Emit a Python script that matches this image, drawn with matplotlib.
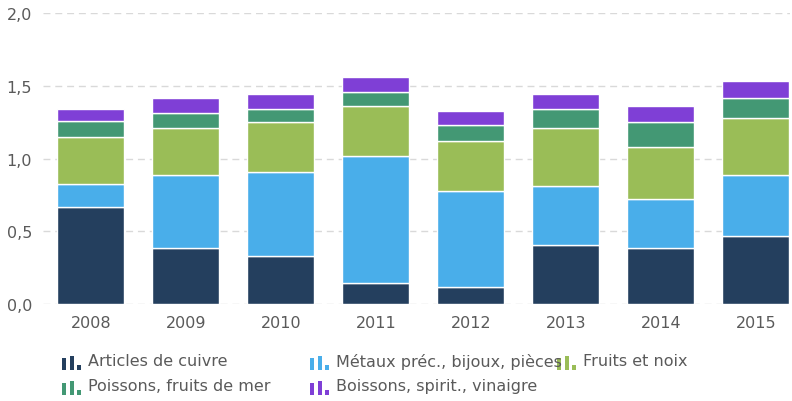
import matplotlib
matplotlib.use('Agg')
import matplotlib.pyplot as plt
from matplotlib.patches import Rectangle
import numpy as np

years = ['2008', '2009', '2010', '2011', '2012', '2013', '2014', '2015']
series_names = ['Articles de cuivre', 'Métaux préc., bijoux, pièces', 'Fruits et noix',
                'Poissons, fruits de mer', 'Boissons, spirit., vinaigre']
cuivre   = [0.665, 0.385, 0.330, 0.144, 0.119, 0.405, 0.387, 0.470]
metaux   = [0.158, 0.502, 0.575, 0.873, 0.658, 0.408, 0.332, 0.417]
fruits   = [0.323, 0.325, 0.344, 0.342, 0.341, 0.397, 0.362, 0.389]
poissons = [0.110, 0.101, 0.091, 0.100, 0.110, 0.130, 0.168, 0.138]
boissons = [0.082, 0.101, 0.101, 0.101, 0.101, 0.101, 0.110, 0.119]
yticks = [0.0, 0.5, 1.0, 1.5, 2.0]
ytick_labels = ['0,0', '0,5', '1,0', '1,5', '2,0']

colors = ['#243f5e', '#49aeea', '#9abd57', '#439874', '#7f3fd6']
C_TEXT = '#5a5a5a'
C_GRID = '#d9d9d9'

fig = plt.figure(figsize=(7.92, 4.02), dpi=100)
fig.patch.set_facecolor('white')
ax = fig.add_axes([43/792, 97/402, 747/792, 291/402])

x = np.arange(len(years))
bottom = np.zeros(len(years))
for vals, col in zip([cuivre, metaux, fruits, poissons, boissons], colors):
    ax.bar(x, vals, width=0.705, bottom=bottom, color=col,
           edgecolor='white', linewidth=1.0, zorder=3)
    bottom += np.array(vals)

ax.set_xlim(-0.505, 7.36)
ax.set_ylim(0, 2.0)
ax.set_yticks(yticks)
ax.set_yticklabels(ytick_labels)
ax.set_xticks(x)
ax.set_xticklabels(years)
ax.tick_params(axis='both', length=0, labelsize=11.5, colors=C_TEXT)
ax.tick_params(axis='y', pad=8)
ax.tick_params(axis='x', pad=8)
for s in ax.spines.values():
    s.set_visible(False)
ax.yaxis.grid(True, color=C_GRID, linestyle=(0, (5, 3.5)), linewidth=1.0, zorder=0)
ax.set_axisbelow(True)

# ── legend (custom bar icons) ────────────────────────────────────────────────
W, H = 792, 402
legend_pos = [(62, 362), (310, 362), (557, 362), (62, 387), (310, 387)]
for name, col, (lx, ly) in zip(series_names, colors, legend_pos):
    # three little bars: medium, tall, short
    for dx, h in zip([0, 8, 14.5], [12, 14, 5]):
        fig.add_artist(Rectangle(((lx + dx) / W, (H - ly - 8.5) / H), 4.2 / W, h / H,
                                 transform=fig.transFigure, color=col, lw=0))
    fig.text((lx + 26) / W, (H - ly) / H, name, fontsize=11.5, color=C_TEXT,
             ha='left', va='center')

plt.savefig('out.png', dpi=100, facecolor='white')
plt.close()
